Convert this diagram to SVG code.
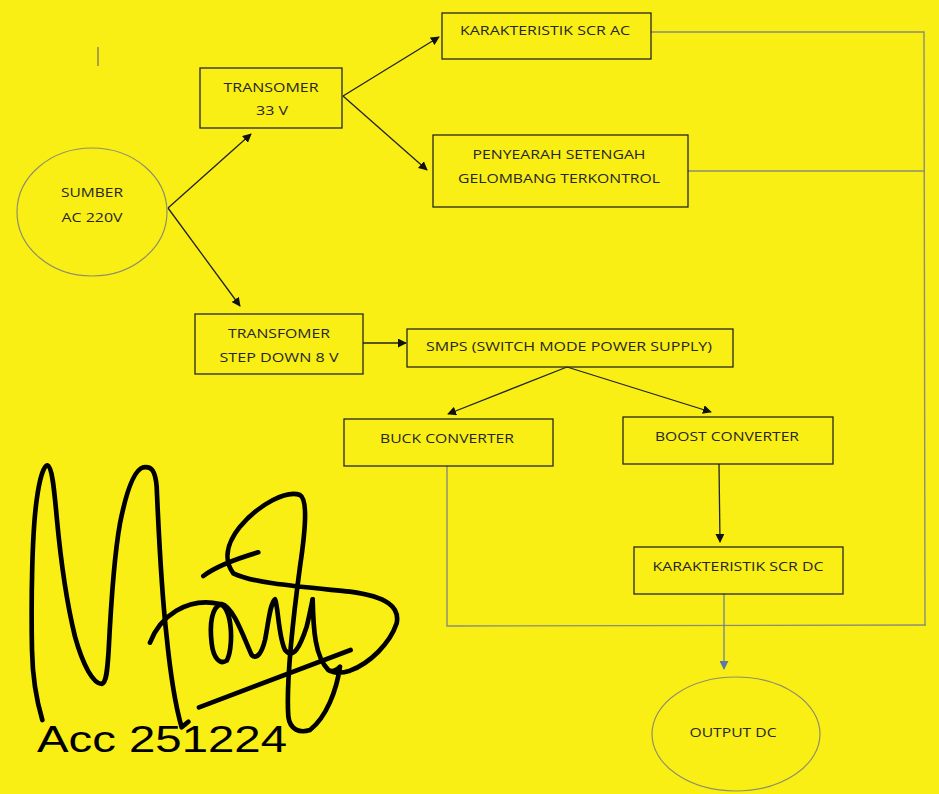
<svg xmlns="http://www.w3.org/2000/svg" width="939" height="794" viewBox="0 0 939 794">
<defs>
<style>
.box{fill:none;stroke:#262626;stroke-width:1.3}
.ell{fill:none;stroke:#8f8f6a;stroke-width:1.2}
.t{font-family:"Open Sans","Liberation Sans",sans-serif;font-size:13.5px;fill:#262626;text-anchor:middle;dominant-baseline:central}
.c{fill:none;stroke:#222;stroke-width:1.3}
.g{fill:none;stroke:#8c8c78;stroke-width:1.4}
.bl{fill:none;stroke:#5d78a8;stroke-width:1.2}
.sig{fill:none;stroke:#000;stroke-width:14;stroke-linecap:round;stroke-linejoin:round}
</style>
<marker id="ah" viewBox="0 0 10 10" refX="9" refY="5" markerWidth="9" markerHeight="9" markerUnits="userSpaceOnUse" orient="auto">
<path d="M0,0 L10,5 L0,10 Z" fill="#111"/>
</marker>
<marker id="ahb" viewBox="0 0 10 10" refX="9" refY="5" markerWidth="9" markerHeight="9" markerUnits="userSpaceOnUse" orient="auto">
<path d="M0,0 L10,5 L0,10 Z" fill="#5d78a8"/>
</marker>
</defs>
<rect x="0" y="0" width="939" height="794" fill="#F9EF15"/>
<line x1="98" y1="47" x2="98" y2="66" stroke="#7a7a60" stroke-width="1.3"/>

<g id="connectors">
<line class="c" x1="168" y1="208" x2="251" y2="134" marker-end="url(#ah)"/>
<line class="c" x1="168" y1="208" x2="240" y2="306" marker-end="url(#ah)"/>
<line class="c" x1="343" y1="96" x2="439" y2="37" marker-end="url(#ah)"/>
<line class="c" x1="343" y1="96" x2="427" y2="170" marker-end="url(#ah)"/>
<line class="c" x1="363" y1="343" x2="406" y2="343" marker-end="url(#ah)"/>
<line class="c" x1="567" y1="367" x2="448" y2="414" marker-end="url(#ah)"/>
<line class="c" x1="567" y1="367" x2="711" y2="412" marker-end="url(#ah)"/>
<line class="c" x1="719" y1="464" x2="720" y2="542" marker-end="url(#ah)"/>
<polyline class="g" points="651,32 924,32 925,625"/>
<line class="g" x1="688" y1="171" x2="924" y2="171"/>
<polyline class="g" points="447,466 447,626 926,625"/>
<line class="bl" x1="724" y1="594" x2="724" y2="669" marker-end="url(#ahb)"/>
</g>

<g id="sumber">
<ellipse class="ell" cx="92" cy="212" rx="75" ry="64"/>
<text class="t" x="92" y="192" textLength="62" lengthAdjust="spacingAndGlyphs">SUMBER</text>
<text class="t" x="92" y="217" textLength="61" lengthAdjust="spacingAndGlyphs">AC 220V</text>
</g>
<g id="transomer">
<rect class="box" x="200" y="68" width="142" height="60"/>
<text class="t" x="271" y="87" textLength="95" lengthAdjust="spacingAndGlyphs">TRANSOMER</text>
<text class="t" x="272" y="110" textLength="32" lengthAdjust="spacingAndGlyphs">33 V</text>
</g>
<g id="scr-ac">
<rect class="box" x="442" y="13" width="209" height="46"/>
<text class="t" x="545" y="30" textLength="170" lengthAdjust="spacingAndGlyphs">KARAKTERISTIK SCR AC</text>
</g>
<g id="penyearah">
<rect class="box" x="433" y="135" width="255" height="72"/>
<text class="t" x="559" y="154" textLength="173" lengthAdjust="spacingAndGlyphs">PENYEARAH SETENGAH</text>
<text class="t" x="559" y="178" textLength="202" lengthAdjust="spacingAndGlyphs">GELOMBANG TERKONTROL</text>
</g>
<g id="transfomer">
<rect class="box" x="195" y="314" width="168" height="60"/>
<text class="t" x="279" y="333" textLength="102" lengthAdjust="spacingAndGlyphs">TRANSFOMER</text>
<text class="t" x="279" y="357" textLength="119" lengthAdjust="spacingAndGlyphs">STEP DOWN 8 V</text>
</g>
<g id="smps">
<rect class="box" x="407" y="329" width="326" height="38"/>
<text class="t" x="569" y="346" textLength="286" lengthAdjust="spacingAndGlyphs">SMPS (SWITCH MODE POWER SUPPLY)</text>
</g>
<g id="buck">
<rect class="box" x="344" y="419" width="209" height="47"/>
<text class="t" x="447" y="438" textLength="134" lengthAdjust="spacingAndGlyphs">BUCK CONVERTER</text>
</g>
<g id="boost">
<rect class="box" x="623" y="417" width="210" height="47"/>
<text class="t" x="727" y="436" textLength="144" lengthAdjust="spacingAndGlyphs">BOOST CONVERTER</text>
</g>
<g id="scr-dc">
<rect class="box" x="634" y="547" width="209" height="47"/>
<text class="t" x="738" y="566" textLength="171" lengthAdjust="spacingAndGlyphs">KARAKTERISTIK SCR DC</text>
</g>
<g id="output">
<ellipse class="ell" cx="736" cy="734" rx="84" ry="57"/>
<text class="t" x="733" y="732" textLength="87" lengthAdjust="spacingAndGlyphs">OUTPUT DC</text>
</g>

<g id="signature" transform="translate(0,450) scale(0.33333)">
<path class="sig" d="M127,810 C112,760 98,700 96,600 C93,450 96,250 110,150 C118,90 130,48 142,46 C156,50 162,110 170,200 C182,330 198,450 225,560 C250,650 280,700 305,702 C320,698 322,660 326,600 C332,480 340,330 360,220 C378,130 400,60 430,52 C455,48 466,62 470,110 C476,250 484,420 500,560 C512,680 530,780 545,832 L565,815"/>
<path class="sig" d="M450,578 C480,500 560,440 660,462 C700,475 700,600 680,632 C660,645 640,625 635,580 C628,520 635,470 665,462 C700,470 730,560 755,615 C770,630 785,610 795,570 C805,520 810,460 825,448 C835,470 835,560 855,600 C880,630 900,590 920,530 C930,490 935,460 938,448"/>
<path class="sig" d="M938,448 C940,540 945,620 985,660 C1000,670 1015,655 1020,650 C1010,720 980,800 930,840 C900,850 870,840 865,800 C858,700 880,500 900,350 C915,250 925,150 900,135 C860,120 780,160 720,230 C680,280 670,330 700,370 C760,400 900,410 1050,425 C1160,440 1200,470 1190,520 C1170,580 1110,640 1050,662 C1020,672 995,668 985,660"/>
<path class="sig" d="M610,378 C640,355 680,335 775,307"/>
<path class="sig" d="M597,772 L1052,600"/>
</g>
<text x="37" y="752" font-family="'Liberation Sans',Arial,sans-serif" font-size="37" fill="#000" textLength="250" lengthAdjust="spacingAndGlyphs">Acc 251224</text>
</svg>
